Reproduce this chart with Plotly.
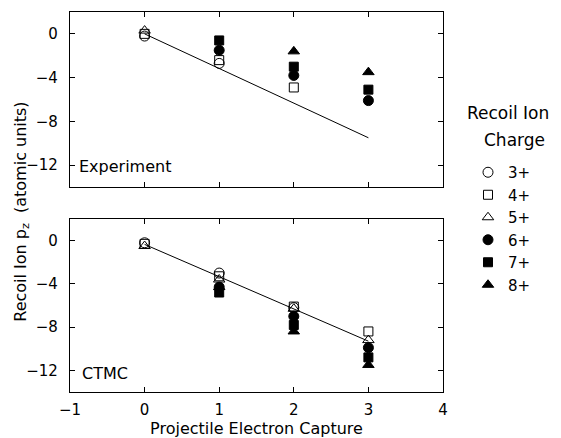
import plotly.graph_objects as go
from plotly.subplots import make_subplots

charges = ["3+", "4+", "5+", "6+", "7+", "8+"]
symbols = ["circle-open", "square-open", "triangle-up-open", "circle", "square", "triangle-up"]

# Experiment (top panel)
exp_x = {
    "3+": [0, 1],
    "4+": [0, 1, 2],
    "5+": [0],
    "6+": [1, 2, 3],
    "7+": [1, 2, 3],
    "8+": [2, 3],
}
exp_y = {
    "3+": [-0.2, -2.7],
    "4+": [0.0, -2.4, -4.9],
    "5+": [0.3],
    "6+": [-1.5, -3.8, -6.1],
    "7+": [-0.6, -3.0, -5.1],
    "8+": [-1.6, -3.5],
}
exp_line_x = [0, 3]
exp_line_y = [0.0, -9.5]

# CTMC (bottom panel)
ctmc_x = {
    "3+": [0, 1, 2],
    "4+": [0, 1, 2, 3],
    "5+": [0, 1, 2, 3],
    "6+": [1, 2, 3],
    "7+": [1, 2, 3],
    "8+": [1, 2, 3],
}
ctmc_y = {
    "3+": [-0.2, -3.0, -6.2],
    "4+": [-0.3, -3.3, -6.1, -8.4],
    "5+": [-0.5, -3.6, -6.3, -9.2],
    "6+": [-4.3, -7.0, -9.9],
    "7+": [-4.8, -7.8, -10.8],
    "8+": [-4.3, -8.4, -11.5],
}
ctmc_line_x = [0, 3]
ctmc_line_y = [-0.35, -9.3]

x_ticks = [-1, 0, 1, 2, 3, 4]
y_ticks = [0, -4, -8, -12]

FONT = "DejaVu Sans"

fig = make_subplots(rows=2, cols=1, vertical_spacing=0.08)

fig.add_trace(go.Scatter(x=exp_line_x, y=exp_line_y, mode="lines",
                         line=dict(color="black", width=1), showlegend=False), row=1, col=1)
fig.add_trace(go.Scatter(x=ctmc_line_x, y=ctmc_line_y, mode="lines",
                         line=dict(color="black", width=1), showlegend=False), row=2, col=1)

sizes = {"circle-open": 10, "square-open": 9, "triangle-up-open": 10,
         "circle": 10, "square": 9, "triangle-up": 10}

for c, s in zip(charges, symbols):
    mk = dict(symbol=s, size=sizes[s], color="black", line=dict(color="black", width=1))
    fig.add_trace(go.Scatter(x=exp_x[c], y=exp_y[c], mode="markers", marker=mk,
                             name=c, legendgroup=c, showlegend=True), row=1, col=1)
    fig.add_trace(go.Scatter(x=ctmc_x[c], y=ctmc_y[c], mode="markers", marker=mk,
                             name=c, legendgroup=c, showlegend=False), row=2, col=1)

axis_common = dict(showgrid=False, zeroline=False, showline=True, linecolor="black",
                   linewidth=1.2, mirror="allticks", ticks="inside", ticklen=5,
                   tickcolor="black", tickwidth=1, automargin=False)

top_dom = [0.5395, 1.0]
bot_dom = [0.0, 0.4553]

fig.update_xaxes(range=[-1, 4], tickvals=x_ticks, **axis_common)
fig.update_xaxes(row=1, col=1, showticklabels=False, tickvals=[0, 1, 2, 3])
fig.update_xaxes(row=2, col=1, ticktext=["\u22121", "0", "1", "2", "3", "4"],
                 ticklabelstandoff=4,
                 title=dict(text="Projectile Electron Capture", standoff=4,
                            font=dict(size=16)))
fig.update_yaxes(range=[-14, 2], tickvals=y_ticks, ticklabelstandoff=8,
                 ticktext=["0", "\u22124", "\u22128", "\u221212"], **axis_common)
fig.update_yaxes(row=1, col=1, domain=top_dom)
fig.update_yaxes(row=2, col=1, domain=bot_dom)

fig.add_annotation(text="Experiment", xref="x", yref="y", x=-0.9, y=-12.1,
                   xanchor="left", yanchor="middle", showarrow=False,
                   font=dict(size=16, color="black", family=FONT))
fig.add_annotation(text="CTMC", xref="x2", yref="y2", x=-0.86, y=-12.3,
                   xanchor="left", yanchor="middle", showarrow=False,
                   font=dict(size=16, color="black", family=FONT))
fig.add_annotation(text="Recoil Ion p<sub>z</sub>  (atomic units)", xref="paper", yref="paper",
                   x=-0.129, y=0.474, xanchor="center", yanchor="middle", textangle=-90,
                   showarrow=False, font=dict(size=16, color="black", family=FONT))
fig.add_annotation(text="Recoil Ion", xref="paper", yref="paper",
                   x=(465 - 70) / 373, y=(392 - 113) / 380, xanchor="left", yanchor="middle",
                   showarrow=False, font=dict(size=17, color="black", family=FONT))
fig.add_annotation(text="Charge", xref="paper", yref="paper",
                   x=(482 - 70) / 373, y=(392 - 140) / 380, xanchor="left", yanchor="middle",
                   showarrow=False, font=dict(size=17, color="black", family=FONT))

# page body has an 8px default margin, so the figure is drawn 8px smaller
fig.update_layout(
    width=553, height=430,
    margin=dict(l=62, r=118, t=4, b=46, autoexpand=False),
    paper_bgcolor="white", plot_bgcolor="white",
    font=dict(family=FONT, size=15, color="black"),
    legend=dict(x=(468 - 70) / 373, y=(392 - 156) / 380, xanchor="left", yanchor="top",
                bgcolor="rgba(0,0,0,0)",
                font=dict(size=15), tracegroupgap=0, itemwidth=30),
)

fig.write_html("out.html")
